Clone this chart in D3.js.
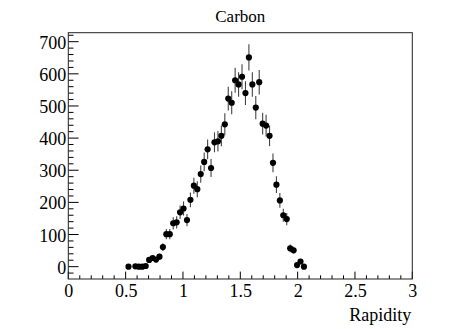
<!DOCTYPE html>
<html>
<head>
<meta charset="utf-8">
<script src="https://cdn.jsdelivr.net/npm/d3@7"></script>
<style>
  body { margin: 0; background: #fff; }
  text { font-family: "Liberation Serif", "Times New Roman", serif; fill: #000; }
</style>
</head>
<body>
<div id="chart"></div>
<script>
"use strict";

// bin centres (rapidity), counts and error bars
const rapidity = [0.525, 0.585, 0.615, 0.645, 0.675, 0.705, 0.735, 0.765, 0.795, 0.825,
    0.855, 0.885, 0.915, 0.945, 0.975, 1.005, 1.035, 1.065, 1.095, 1.125,
    1.155, 1.185, 1.215, 1.245, 1.275, 1.305, 1.335, 1.365, 1.395, 1.425,
    1.455, 1.485, 1.515, 1.545, 1.575, 1.605, 1.635, 1.665, 1.695, 1.725,
    1.755, 1.785, 1.815, 1.845, 1.875, 1.905, 1.935, 1.965, 1.995, 2.025, 2.055];
const counts = [0, 1, 0, 0, 2, 21, 27, 22, 31, 61,
    101, 101, 135, 138, 169, 181, 145, 208, 252, 241,
    288, 326, 365, 307, 387, 390, 407, 443, 523, 510,
    580, 567, 591, 540, 651, 567, 495, 574, 445, 439,
    407, 323, 255, 206, 160, 148, 57, 51, 5, 16, 0];
const errors = [0, 2, 0, 0, 2, 7, 8, 8, 9, 12,
    16, 16, 19, 19, 21, 22, 19, 23, 25, 25,
    27, 29, 31, 28, 31, 32, 32, 34, 37, 36,
    39, 38, 39, 37, 41, 38, 36, 38, 34, 34,
    32, 29, 26, 23, 20, 19, 12, 11, 4, 6, 2];
const xTicks = [0, 0.5, 1, 1.5, 2, 2.5, 3];
const yTicks = [0, 100, 200, 300, 400, 500, 600, 700];

const msm = {
    width: 458,
    height: 329,
    left: 68.3,
    right: 412.3,
    top: 32.7,
    bottom: 279
};

let svg = d3.select("#chart")
    .append("svg")
    .attr("width", msm.width)
    .attr("height", msm.height);

let xScale = d3.scaleLinear()
    .domain([0, 3])
    .range([msm.left, msm.right]);

let yScale = d3.scaleLinear()
    .domain([-38.4, 728])
    .range([msm.bottom, msm.top]);

// minor ticks every 0.1 / 20
let xMinor = d3.range(0, 31).map((i) => i / 10).filter((v) => !xTicks.some((t) => Math.abs(t - v) < 1e-6));
let yMinor = d3.range(-1, 37).map((i) => i * 20).filter((v) => v % 100 != 0 && v > -38.4 && v < 728);

let xAxis = d3.axisBottom(xScale)
    .tickValues(xTicks)
    .tickSize(0)
    .tickPadding(0)
    .tickFormat((d) => d);

let gx = svg.append("g")
    .attr("transform", "translate(0," + msm.bottom + ")")
    .call(xAxis);
gx.select(".domain").remove();
gx.selectAll("text")
    .attr("y", 17.7)
    .attr("dy", null)
    .style("font-size", "18px");

// x ticks point up into the frame
svg.selectAll(".xmaj")
    .data(xTicks)
    .enter()
    .append("line")
    .attr("x1", (d) => xScale(d))
    .attr("x2", (d) => xScale(d))
    .attr("y1", msm.bottom)
    .attr("y2", msm.bottom - 7.4)
    .attr("stroke", "#000");
svg.selectAll(".xmin")
    .data(xMinor)
    .enter()
    .append("line")
    .attr("x1", (d) => xScale(d))
    .attr("x2", (d) => xScale(d))
    .attr("y1", msm.bottom)
    .attr("y2", msm.bottom - 3.7)
    .attr("stroke", "#000");

let yAxis = d3.axisLeft(yScale)
    .tickValues(yTicks)
    .tickSize(0)
    .tickPadding(2)
    .tickFormat((d) => d);

let gy = svg.append("g")
    .attr("transform", "translate(" + msm.left + ",0)")
    .call(yAxis);
gy.select(".domain").remove();
gy.selectAll("text")
    .attr("dy", "0.36em")
    .style("font-size", "18px");

// y ticks point right into the frame
svg.selectAll(".ymaj")
    .data(yTicks)
    .enter()
    .append("line")
    .attr("x1", msm.left)
    .attr("x2", msm.left + 10.3)
    .attr("y1", (d) => yScale(d))
    .attr("y2", (d) => yScale(d))
    .attr("stroke", "#000");
svg.selectAll(".ymin")
    .data(yMinor)
    .enter()
    .append("line")
    .attr("x1", msm.left)
    .attr("x2", msm.left + 5.2)
    .attr("y1", (d) => yScale(d))
    .attr("y2", (d) => yScale(d))
    .attr("stroke", "#000");

// frame
svg.append("rect")
    .attr("x", msm.left)
    .attr("y", msm.top)
    .attr("width", msm.right - msm.left)
    .attr("height", msm.bottom - msm.top)
    .attr("fill", "none")
    .attr("stroke", "#222")
    .attr("stroke-width", 1);

let points = rapidity.map((x, i) => ({ x: x, y: counts[i], e: errors[i] }));

// error bars
svg.selectAll(".err")
    .data(points)
    .enter()
    .append("line")
    .attr("x1", (d) => xScale(d.x))
    .attr("x2", (d) => xScale(d.x))
    .attr("y1", (d) => yScale(d.y - d.e))
    .attr("y2", (d) => yScale(d.y + d.e))
    .attr("stroke", "#444")
    .attr("stroke-width", 1.1);

svg.selectAll(".dot")
    .data(points)
    .enter()
    .append("circle")
    .attr("cx", (d) => xScale(d.x))
    .attr("cy", (d) => yScale(d.y))
    .attr("r", 3.1)
    .attr("fill", "#000");

// title and axis label
svg.append("text")
    .attr("x", (msm.left + msm.right) / 2)
    .attr("y", 21.5)
    .attr("text-anchor", "middle")
    .style("font-size", "17px")
    .text("Carbon");

svg.append("text")
    .attr("x", msm.right - 1)
    .attr("y", 321)
    .attr("text-anchor", "end")
    .style("font-size", "18px")
    .text("Rapidity");
</script>
</body>
</html>
